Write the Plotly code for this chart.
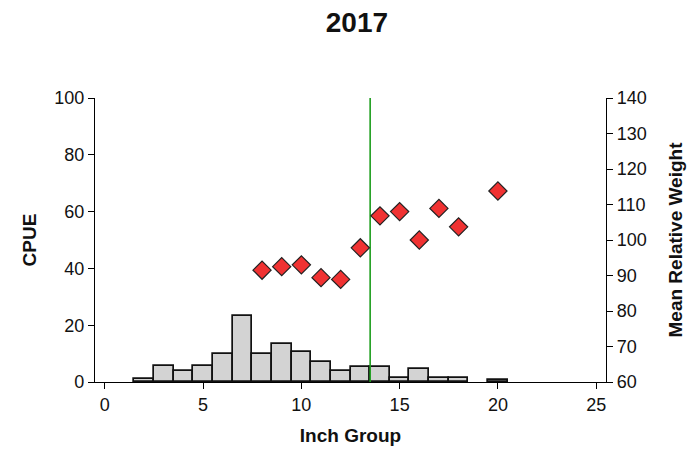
import plotly.graph_objects as go

# Length-frequency (CPUE) by inch group
inch_groups = [2, 3, 4, 5, 6, 7, 8, 9, 10, 11, 12, 13, 14, 15, 16, 17, 18, 20]
cpue = [1.0, 5.8, 3.9, 5.8, 10.0, 23.2, 10.0, 13.4, 10.5, 7.2, 3.9, 5.2, 5.2, 1.5, 4.7, 1.4, 1.3, 0.6]

# Mean relative weight by inch group
wr_groups = [8, 9, 10, 11, 12, 13, 14, 15, 16, 17, 18, 20]
mean_wr = [91.5, 92.5, 93.0, 89.4, 88.9, 97.8, 106.8, 108.0, 100.0, 108.9, 103.7, 113.8]

# Minimum length limit marker
limit_x = [13.5, 13.5]
limit_y = [0, 100]

font_family = "Liberation Sans, Arial, sans-serif"
ink = "#111111"

fig = go.Figure()
fig.add_trace(go.Bar(
    x=inch_groups, y=cpue, width=1.0,
    marker=dict(color="#d3d3d3", line=dict(color=ink, width=1.7)),
    showlegend=False,
))
fig.add_trace(go.Scatter(
    x=limit_x, y=limit_y, mode="lines",
    line=dict(color="#1e9e1e", width=1.6),
    showlegend=False,
))
fig.add_trace(go.Scatter(
    x=wr_groups, y=mean_wr, mode="markers", yaxis="y2",
    marker=dict(symbol="diamond", size=14, color="#f03232",
                line=dict(color="#222222", width=1.2)),
    showlegend=False,
))

axis_common = dict(
    automargin=False,
    showgrid=False, zeroline=False, showline=True, linecolor="black", linewidth=1.3,
    ticks="outside", ticklen=6, tickcolor="black", tickwidth=1.3,
    tickfont=dict(family=font_family, size=18, color=ink),
)
title_font = dict(family=font_family, size=19, color=ink)

fig.update_layout(
    width=689, height=451,
    margin=dict(l=95, r=83, t=98, b=69),
    plot_bgcolor="white", paper_bgcolor="white",
    bargap=0,
    title=dict(text="<b>2017</b>", x=0.518, xanchor="center", y=0.951, yanchor="middle",
               font=dict(family=font_family, size=28, color=ink)),
    xaxis=dict(range=[-0.5, 25.5], tickvals=[0, 5, 10, 15, 20, 25],
               title=dict(text="<b>Inch Group</b>", standoff=14, font=title_font),
               **axis_common),
    yaxis=dict(range=[0, 100], tickvals=[0, 20, 40, 60, 80, 100],
               title=dict(text="<b>CPUE</b>", standoff=12, font=title_font),
               **axis_common),
    yaxis2=dict(range=[60, 140], tickvals=list(range(60, 141, 10)),
                overlaying="y", side="right", anchor="x",
                title=dict(text="<b>Mean Relative Weight</b>", standoff=22, font=title_font),
                **axis_common),
)

fig.write_html("out.html")
